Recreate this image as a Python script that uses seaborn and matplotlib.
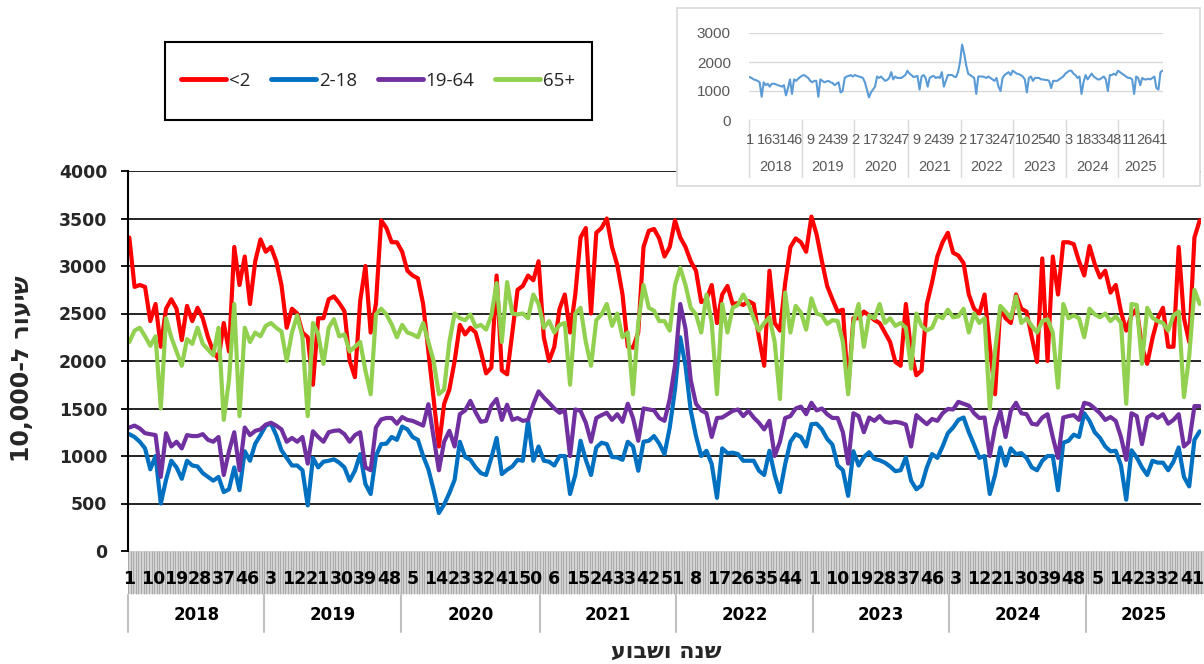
import numpy as np
import pandas as pd
import seaborn as sns
import matplotlib.pyplot as plt
import matplotlib.transforms as mtransforms
from matplotlib.lines import Line2D
from matplotlib.patches import Rectangle

# ---- data: weekly rates per 10,000, read every second week from week 1 of 2018 ----
years = [2018, 2019, 2020, 2021, 2022, 2023, 2024, 2025]
weeks_in_year = [52, 52, 53, 52, 52, 52, 52, 44]

under_2 = [
    3300, 2780, 2800, 2780, 2420, 2600, 2150, 2550, 2650, 2550, 2220, 2580, 2420, 2560, 2450, 2250, 2100, 2020, 2400, 2100, 3200, 2800, 3100, 2600, 3050, 3280,
    3150, 3200, 3050, 2800, 2350, 2550, 2500, 2300, 2250, 1750, 2450, 2450, 2650, 2680, 2610, 2525, 2000, 1830, 2630, 3000, 2300, 2600, 3480, 3400, 3250, 3250,
    3150, 2950, 2900, 2870, 2600, 2100, 1600, 1100, 1550, 1700, 2000, 2380, 2280, 2350, 2300, 2100, 1870, 1930, 2900, 1900, 1860, 2300, 2750, 2790, 2900, 2850, 3050,
    2250, 2000, 2150, 2550, 2700, 2300, 2700, 3300, 3400, 2500, 3350, 3400, 3500, 3200, 3010, 2700, 2150, 2140, 2300, 3200, 3370, 3390, 3290, 3100, 3200, 3480,
    3300, 3200, 3050, 2950, 2620, 2650, 2800, 2400, 2700, 2790, 2600, 2610, 2590, 2630, 2600, 2250, 1950, 2950, 2400, 2320, 2820, 3200, 3290, 3250, 3150, 3520,
    3330, 3050, 2790, 2650, 2520, 2540, 1700, 2450, 2450, 2520, 2480, 2430, 2400, 2300, 2200, 1990, 1950, 2600, 2100, 1850, 1900, 2600, 2830, 3100, 3250, 3350,
    3140, 3110, 3030, 2700, 2550, 2500, 2700, 2150, 1650, 2560, 2450, 2400, 2700, 2550, 2520, 2250, 1990, 3080, 2000, 3100, 2700, 3250, 3250, 3230, 3050, 2900,
    3210, 3020, 2880, 2950, 2720, 2800, 2520, 2320, 2480, 2550, 2150, 1970, 2240, 2450, 2560, 2150, 2150, 3200, 2450, 2200, 3300, 3480,
]
age_2_18 = [
    1230, 1200, 1150, 1080, 860, 1000, 500, 750, 950, 880, 760, 950, 900, 890, 820, 780, 740, 780, 620, 650, 880, 640, 1050, 950, 1130, 1220,
    1320, 1340, 1220, 1060, 980, 900, 900, 850, 480, 980, 880, 940, 950, 965, 930, 880, 740, 845, 1020, 705, 600, 1000, 1125, 1130, 1200, 1170,
    1310, 1280, 1200, 1170, 1000, 860, 640, 400, 490, 610, 750, 1150, 990, 960, 880, 820, 800, 980, 1190, 810, 855, 890, 960, 950, 1370, 950, 1100,
    950, 940, 900, 1000, 1000, 600, 800, 1160, 960, 800, 1090, 1140, 1125, 990, 985, 960, 1150, 1100, 845, 1150, 1160, 1210, 1130, 1020, 1300, 1700,
    2250, 1950, 1480, 1210, 1000, 1055, 915, 560, 1080, 1030, 1035, 1020, 950, 950, 950, 845, 800, 1055, 800, 620, 915, 1150, 1230, 1200, 1100, 1335,
    1340, 1280, 1180, 1120, 900, 850, 580, 1050, 900, 990, 1040, 970, 955, 930, 890, 840, 850, 985, 740, 650, 690, 880, 1020, 980, 1100, 1240,
    1300, 1380, 1405, 1250, 1120, 980, 1000, 600, 800, 1090, 900, 1080, 1020, 1030, 980, 880, 850, 950, 1000, 1000, 640, 1140, 1160, 1225, 1200, 1450,
    1370, 1250, 1190, 1100, 1050, 1055, 900, 540, 1060, 985, 880, 800, 950, 930, 930, 850, 940, 1090, 780, 680, 1170, 1260,
]
age_19_64 = [
    1300, 1320, 1290, 1240, 1230, 1220, 780, 1240, 1100, 1150, 1080, 1220, 1210, 1210, 1230, 1170, 1150, 1200, 800, 1050, 1250, 850, 1300, 1220, 1265, 1280,
    1330, 1350, 1320, 1280, 1150, 1190, 1150, 1200, 920, 1260, 1200, 1150, 1250, 1265, 1270, 1230, 1150, 1220, 1250, 880, 850, 1300, 1385, 1400, 1400, 1340,
    1410, 1380, 1370, 1345, 1320, 1545, 1200, 850, 1150, 1265, 1100, 1440, 1480, 1580, 1460, 1360, 1370, 1530, 1600, 1380, 1540, 1380, 1400, 1370, 1380, 1545, 1680,
    1615, 1560, 1500, 1455, 1480, 1000, 1490, 1475, 1350, 1150, 1400, 1430, 1455, 1380, 1440, 1360, 1550, 1400, 1160, 1500, 1490, 1480, 1400, 1370, 1600, 1950,
    2600, 2340, 1800, 1550, 1480, 1450, 1200, 1400, 1405, 1440, 1475, 1490, 1420, 1475, 1405, 1350, 1280, 1370, 1000, 1150, 1400, 1420, 1500, 1520, 1440, 1560,
    1480, 1500, 1440, 1400, 1400, 1250, 920, 1450, 1420, 1250, 1405, 1370, 1420, 1360, 1350, 1360, 1350, 1330, 1100, 1430, 1380, 1335, 1390, 1370, 1450, 1495,
    1490, 1570, 1550, 1530, 1450, 1400, 1405, 1000, 1300, 1475, 1200, 1475, 1560, 1450, 1440, 1340, 1330, 1405, 1440, 1200, 980, 1405, 1420, 1430, 1380, 1560,
    1545, 1500, 1450, 1380, 1410, 1370, 1200, 960, 1450, 1420, 1125, 1405, 1440, 1400, 1440, 1340, 1380, 1440, 1100, 1150, 1525, 1525,
]
age_65_plus = [
    2200, 2320, 2350, 2260, 2160, 2260, 1500, 2450, 2250, 2100, 1950, 2230, 2180, 2350, 2180, 2120, 2060, 2350, 1380, 1800, 2600, 1420, 2350, 2200, 2300, 2260,
    2370, 2400, 2350, 2310, 2000, 2300, 2480, 2250, 1420, 2400, 2280, 1970, 2350, 2440, 2260, 2280, 2100, 2150, 2200, 1900, 1650, 2490, 2550, 2490, 2385, 2250,
    2380, 2300, 2280, 2250, 2400, 2200, 2000, 1650, 1700, 2200, 2500, 2450, 2430, 2490, 2360, 2380, 2330, 2480, 2820, 2200, 2830, 2500, 2490, 2500, 2450, 2700, 2600,
    2350, 2420, 2300, 2380, 2400, 1750, 2500, 2560, 2200, 1950, 2430, 2490, 2600, 2370, 2500, 2250, 2300, 1650, 2400, 2800, 2560, 2530, 2420, 2420, 2320, 2800,
    2980, 2800, 2560, 2490, 2300, 2700, 2400, 1650, 2600, 2300, 2560, 2590, 2700, 2600, 2450, 2320, 2400, 2460, 2200, 1600, 2720, 2300, 2580, 2510, 2330, 2660,
    2500, 2480, 2390, 2430, 2420, 2200, 1650, 2400, 2600, 2150, 2480, 2450, 2600, 2400, 2450, 2370, 2400, 2350, 1920, 2500, 2370, 2320, 2350, 2480, 2450, 2540,
    2460, 2470, 2550, 2300, 2500, 2400, 2450, 1500, 2100, 2580, 2520, 2450, 2680, 2400, 2450, 2370, 2300, 2420, 2440, 2300, 1720, 2600, 2450, 2480, 2450, 2250,
    2550, 2490, 2460, 2500, 2420, 2470, 2400, 1550, 2600, 2590, 1970, 2560, 2455, 2420, 2400, 2320, 2480, 2520, 1620, 2050, 2750, 2600,
]
# small chart top right: all ages
total_rate = [
    1480, 1450, 1400, 1380, 1350, 1300, 800, 1300, 1200, 1250, 1150, 1250, 1250, 1230, 1200, 1180, 1150, 1200, 850, 1100, 1400, 900, 1400, 1350, 1420, 1480,
    1530, 1550, 1500, 1450, 1350, 1300, 1350, 1350, 800, 1400, 1350, 1300, 1330, 1350, 1300, 1280, 1200, 1250, 1300, 950, 1000, 1450, 1500, 1520, 1550, 1500,
    1550, 1520, 1500, 1480, 1450, 1300, 1050, 780, 950, 1050, 1150, 1500, 1450, 1500, 1420, 1350, 1380, 1450, 1650, 1400, 1500, 1450, 1450, 1450, 1500, 1550, 1700,
    1600, 1550, 1480, 1500, 1520, 1050, 1500, 1550, 1450, 1150, 1450, 1500, 1520, 1450, 1480, 1450, 1650, 1150, 1350, 1550, 1550, 1550, 1500, 1480, 1650, 2000,
    2600, 2300, 1900, 1600, 1550, 1500, 1450, 900, 1500, 1500, 1500, 1480, 1450, 1500, 1450, 1400, 1350, 1450, 1150, 1000, 1450, 1550, 1600, 1650, 1550, 1700,
    1650, 1600, 1580, 1550, 1500, 1400, 950, 1450, 1500, 1350, 1450, 1450, 1450, 1400, 1400, 1380, 1380, 1350, 1100, 1350, 1350, 1350, 1400, 1450, 1500, 1600,
    1650, 1700, 1700, 1600, 1550, 1450, 1500, 900, 1300, 1550, 1400, 1500, 1600, 1500, 1450, 1400, 1400, 1450, 1500, 1400, 1000, 1550, 1550, 1600, 1550, 1700,
    1650, 1600, 1550, 1500, 1450, 1450, 1400, 900, 1500, 1450, 1200, 1450, 1400, 1400, 1420, 1400, 1450, 1500, 1100, 1050, 1650, 1700,
]

groups = ['<2', '2-18', '19-64', '65+']
colors = ['#ff0000', '#0070c0', '#7030a0', '#92d050']

# ---- build category axis (one category per week) ----
n_weeks = sum(weeks_in_year)
week_no = np.concatenate([np.arange(1, n + 1) for n in weeks_in_year])
year_start = np.concatenate([[0], np.cumsum(weeks_in_year)[:-1]])
sample_week = np.arange(0, n_weeks, 2)

series = dict(zip(groups, [under_2, age_2_18, age_19_64, age_65_plus]))
df = pd.concat([pd.DataFrame({'week': sample_week, 'rate': v, 'group': g})
                for g, v in series.items()], ignore_index=True)
df_total = pd.DataFrame({'week': sample_week, 'rate': total_rate})

sns.set_theme(style='white')
plt.rcParams['font.family'] = ['DejaVu Sans']

W, H = 1204, 664
fig = plt.figure(figsize=(W / 100, H / 100), dpi=100)

# ---- main chart ----
ax = fig.add_axes([128 / W, 1 - 551 / H, 1073 / W, 380 / H])
sns.lineplot(data=df, x='week', y='rate', hue='group', hue_order=groups,
             palette=colors, linewidth=3, legend=False, errorbar=None, ax=ax,
             solid_joinstyle='round', solid_capstyle='round')
ax.set_xlim(-0.5, n_weeks - 0.5)
ax.set_ylim(0, 4000)
ax.set_xlabel('')
ax.set_ylabel('')

yt = list(range(0, 4001, 500))
ax.set_yticks(yt)
ax.set_yticklabels([str(v) for v in yt], fontweight='bold', fontsize=12.5)
ax.tick_params(axis='y', which='major', left=True, length=5, width=1.3,
               color='black', pad=10, direction='out')
ax.yaxis.grid(True, color='black', linewidth=1.2)
ax.get_ygridlines()[0].set_visible(False)
for s in ['top', 'right', 'bottom']:
    ax.spines[s].set_visible(False)
ax.spines['left'].set_color('black')
ax.spines['left'].set_linewidth(1.5)

# dense grey band of category ticks under the plot
ax.set_xticks([])
ax.set_xticks(np.arange(-0.5, n_weeks, 1), minor=True)
ax.tick_params(axis='x', which='minor', bottom=True, length=31, width=0.7,
               color='#a9a9a9', direction='out')
ax.add_patch(Rectangle((0, -0.113), 1.01, 0.113, transform=ax.transAxes,
                       facecolor='#d3d3d3', edgecolor='none', clip_on=False, zorder=0))

trans = mtransforms.blended_transform_factory(ax.transData, ax.transAxes)
for i in range(0, n_weeks, 9):
    ax.text(i, -0.074, str(week_no[i]), transform=trans, ha='center', va='center',
            fontsize=12.5, fontweight='bold', color='black', clip_on=False)
for y, s, n in zip(years, year_start, weeks_in_year):
    ax.plot([s - 0.5, s - 0.5], [-0.116, -0.213], transform=trans, color='#c0c0c0',
            linewidth=1.5, clip_on=False)
    ax.text(s + n / 2 - 0.5, -0.168, str(y), transform=trans, ha='center', va='center',
            fontsize=12, fontweight='bold', color='black', clip_on=False)

fig.text(666 / W, 1 - 652 / H, 'שנה ושבוע'[::-1], ha='center', va='center',
         fontsize=16, fontweight='bold')
fig.text(22 / W, 1 - 369 / H, '10,000-' + 'שיעור ל'[::-1], rotation=90,
         ha='center', va='center', fontsize=17, fontweight='bold')

# ---- legend in a black box ----
fig.add_artist(Rectangle((165 / W, 1 - 120 / H), 427 / W, 78 / H, transform=fig.transFigure,
                         facecolor='white', edgecolor='black', linewidth=1.5))
handles = [Line2D([0], [0], color=c, lw=3.5, solid_capstyle='round') for c in colors]
fig.legend(handles, groups, loc='center', bbox_to_anchor=(378 / W, 1 - 81 / H), ncol=4,
           frameon=False, handlelength=2.4, handletextpad=0.15, columnspacing=1.1,
           prop={'family': 'Open Sans', 'size': 13.5})

# ---- small chart of all ages ----
fig.add_artist(Rectangle((677 / W, 1 - 186 / H), 523 / W, 178 / H, transform=fig.transFigure,
                         facecolor='white', edgecolor='#d9d9d9', linewidth=1.2, zorder=3))
axi = fig.add_axes([749 / W, 1 - 120 / H, 414 / W, 87 / H], zorder=4)
axi.patch.set_alpha(0)
sns.lineplot(data=df_total, x='week', y='rate', color='#5b9bd5', linewidth=1.5,
             errorbar=None, ax=axi)
axi.set_xlim(-0.5, n_weeks - 0.5)
axi.set_ylim(0, 3000)
axi.set_xlabel('')
axi.set_ylabel('')
axi.set_xticks([])
axi.set_yticks([0, 1000, 2000, 3000])
axi.set_yticklabels(['0', '1000', '2000', '3000'], fontsize=11, color='#595959',
                    family='Liberation Sans')
axi.tick_params(axis='y', length=0, pad=13)
axi.yaxis.grid(True, color='#d9d9d9', linewidth=1)
for s in axi.spines.values():
    s.set_visible(False)
trans_i = mtransforms.blended_transform_factory(axi.transData, axi.transAxes)
for i in range(0, n_weeks, 15):
    axi.text(i, -0.23, str(week_no[i]), transform=trans_i, ha='center', va='center',
             fontsize=10.5, color='#595959', family='Liberation Sans', clip_on=False)
for y, s, n in zip(years, year_start, weeks_in_year):
    axi.plot([s - 0.5, s - 0.5], [0, -0.66], transform=trans_i, color='#d9d9d9',
             linewidth=1, clip_on=False)
    axi.text(s + n / 2 - 0.5, -0.54, str(y), transform=trans_i, ha='center', va='center',
             fontsize=10.5, color='#595959', family='Liberation Sans', clip_on=False)
axi.plot([n_weeks - 0.5, n_weeks - 0.5], [0, -0.66], transform=trans_i, color='#d9d9d9',
         linewidth=1, clip_on=False)

fig.savefig('out.png', dpi=100)
